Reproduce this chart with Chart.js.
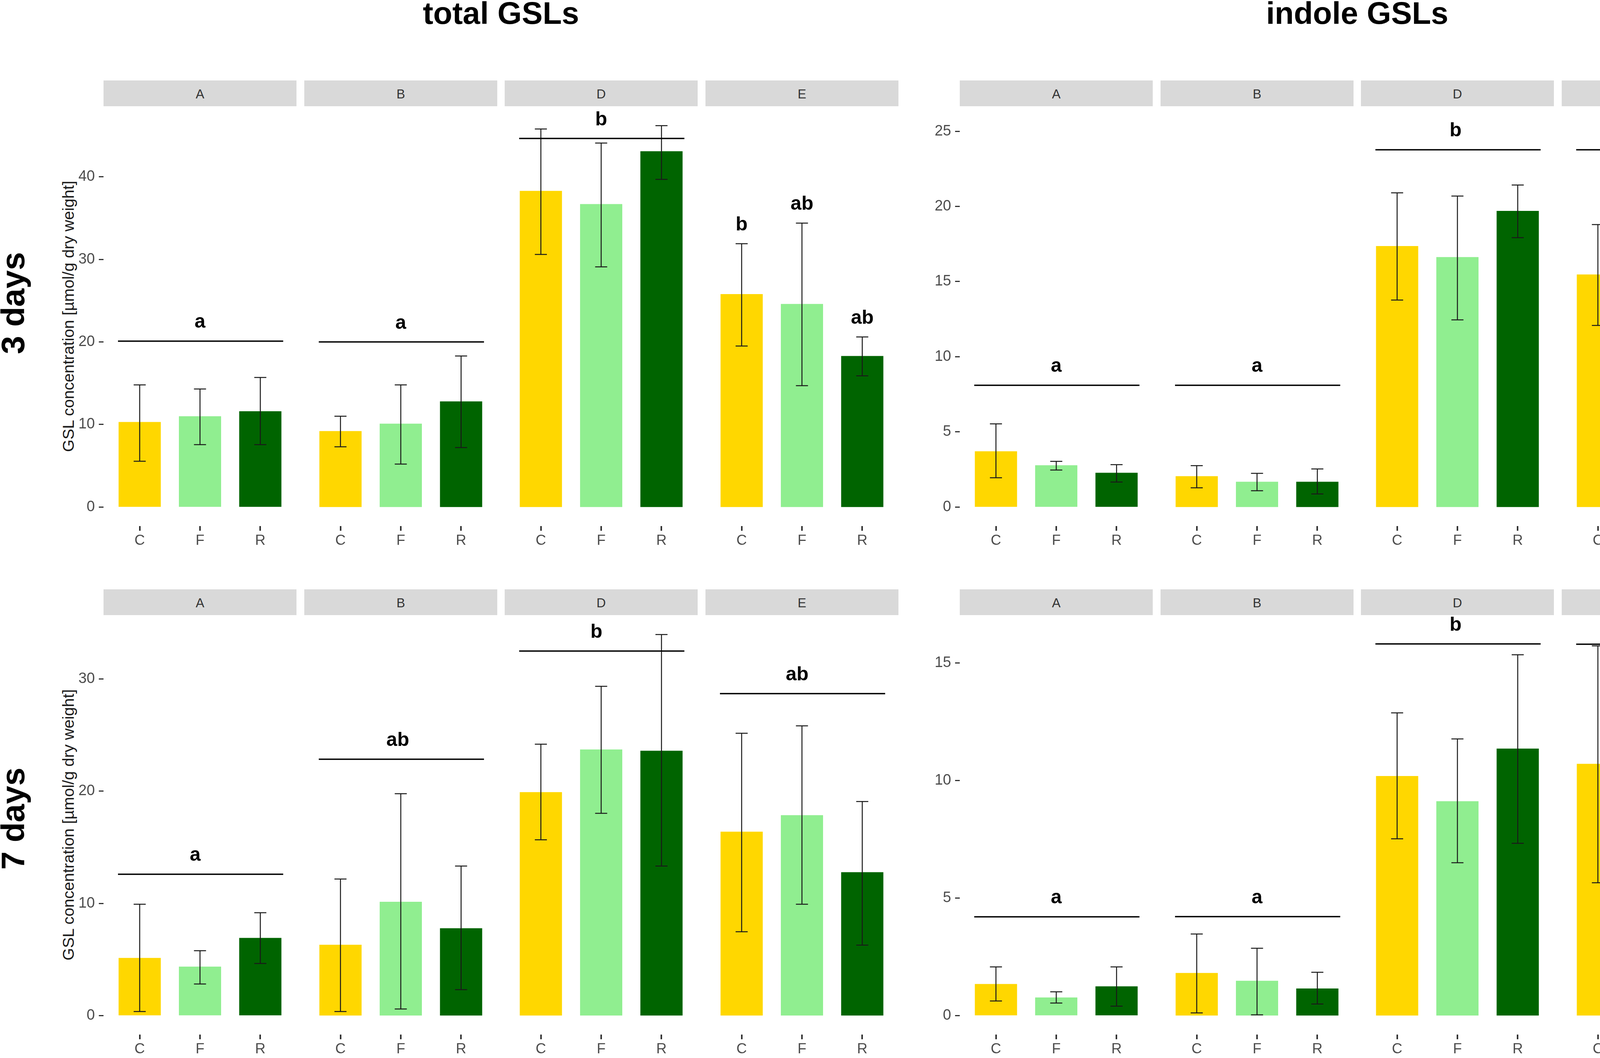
<!DOCTYPE html>
<html>
<head>
<meta charset="utf-8">
<script src="https://cdn.jsdelivr.net/npm/chart.js@4.4.1/dist/chart.umd.min.js"></script>
<style>
  html, body { margin: 0; padding: 0; background: #fff; }
  body { position: relative; width: 4500px; height: 2709px; overflow: hidden; font-family: "Liberation Sans", Arial, sans-serif; }
  canvas { position: absolute; }
  .strip { position: absolute; background: #d9d9d9; color: #333; font-size: 33px; text-align: center; box-sizing: border-box; padding-top: 16px; }
  .title { position: absolute; text-align: center; font-weight: bold; font-size: 80px; line-height: 1; color: #000; }
  .rot { position: absolute; transform: translate(-50%, -50%) rotate(-90deg); white-space: nowrap; line-height: 1; }
</style>
</head>
<body>
<div class="title" style="left:265px;top:-6px;width:2035px">total GSLs</div>
<div class="title" style="left:2457px;top:-6px;width:2035px">indole GSLs</div>
<div class="rot" style="left:33px;top:776px;font-weight:bold;font-size:84px">3 days</div>
<div class="rot" style="left:33px;top:2096px;font-weight:bold;font-size:84px">7 days</div>
<div class="rot" style="left:175px;top:810px;font-size:41px;color:#1a1a1a">GSL concentration [µmol/g dry weight]</div>
<div class="rot" style="left:175px;top:2112px;font-size:41px;color:#1a1a1a">GSL concentration [µmol/g dry weight]</div>
<script>
const facets = ["A", "B", "D", "E"];
const treatments = ["C", "F", "R"];
const barColors = ["#FFD700", "#90EE90", "#006400"];

// total GSLs, 3 days (per facet: C, F, R)
const total3Mean = [[10.3, 11.0, 11.6], [9.2, 10.1, 12.8], [38.3, 36.7, 43.1], [25.8, 24.6, 18.3]];
const total3Low = [[5.55, 7.55, 7.55], [7.3, 5.2, 7.2], [30.6, 29.1, 39.7], [19.5, 14.7, 15.9]];
const total3High = [[14.8, 14.3, 15.7], [11.0, 14.8, 18.3], [45.8, 44.1, 46.2], [31.9, 34.4, 20.6]];
const total3LineY = [20.1, 20.0, 44.65, null];
const total3LineLabel = ["a", "a", "b", null];
const total3LabelX = [2, 2, 2, 2];
const total3BarLabels = [null, null, null, ["b", "ab", "ab"]];
const total3Ticks = [0, 10, 20, 30, 40];

// total GSLs, 7 days
const total7Mean = [[5.14, 4.36, 6.92], [6.31, 10.14, 7.78], [19.92, 23.72, 23.61], [16.39, 17.86, 12.78]];
const total7Low = [[0.36, 2.81, 4.64], [0.36, 0.58, 2.31], [15.67, 18.03, 13.33], [7.47, 9.92, 6.28]];
const total7High = [[9.92, 5.78, 9.17], [12.17, 19.78, 13.33], [24.19, 29.36, 33.97], [25.17, 25.83, 19.08]];
const total7LineY = [12.6, 22.85, 32.5, 28.7];
const total7LineLabel = ["a", "ab", "b", "ab"];
const total7LabelX = [1.92, 1.95, 1.92, 1.92];
const total7Ticks = [0, 10, 20, 30];

// indole GSLs, 3 days
const indole3Mean = [[3.71, 2.78, 2.28], [2.05, 1.68, 1.68], [17.36, 16.63, 19.7], [15.47, 16.47, 9.71]];
const indole3Low = [[1.95, 2.46, 1.66], [1.28, 1.08, 0.87], [13.77, 12.45, 17.92], [12.08, 7.64, 6.03]];
const indole3High = [[5.53, 3.04, 2.82], [2.75, 2.24, 2.53], [20.9, 20.69, 21.42], [18.79, 25.37, 13.4]];
const indole3LineY = [8.1, 8.1, 23.77, 23.77];
const indole3LineLabel = ["a", "a", "b", "b"];
const indole3LabelX = [2, 2, 1.97, 2.2];
const indole3Ticks = [0, 5, 10, 15, 20, 25];

// indole GSLs, 7 days
const indole7Mean = [[1.34, 0.77, 1.24], [1.81, 1.48, 1.15], [10.19, 9.12, 11.36], [10.71, 10.71, 7.73]];
const indole7Low = [[0.62, 0.53, 0.4], [0.11, 0.03, 0.49], [7.52, 6.5, 7.33], [5.65, 5.19, 4.26]];
const indole7High = [[2.07, 1.01, 2.07], [3.47, 2.86, 1.84], [12.88, 11.77, 15.35], [15.73, 16.21, 11.11]];
const indole7LineY = [4.2, 4.21, 15.81, 15.8];
const indole7LineLabel = ["a", "a", "b", "b"];
const indole7LabelX = [2, 2, 1.97, 2.2];
const indole7Ticks = [0, 5, 10, 15];

const FONT = "'Liberation Sans', Arial, sans-serif";
const PANEL_W = 494;
const PITCH = 513.5;
const AXIS_W = 150;
const XAXIS_H = 60;
const TICK_LEN = 12;

const groups = [
  { mean: total3Mean, low: total3Low, high: total3High, lineY: total3LineY, lineLabel: total3LineLabel,
    labelX: total3LabelX, barLabels: total3BarLabels, ticks: total3Ticks, left: 265, top: 273, height: 1074 },
  { mean: total7Mean, low: total7Low, high: total7High, lineY: total7LineY, lineLabel: total7LineLabel,
    labelX: total7LabelX, barLabels: null, ticks: total7Ticks, left: 265, top: 1576, height: 1073 },
  { mean: indole3Mean, low: indole3Low, high: indole3High, lineY: indole3LineY, lineLabel: indole3LineLabel,
    labelX: indole3LabelX, barLabels: null, ticks: indole3Ticks, left: 2457, top: 273, height: 1074 },
  { mean: indole7Mean, low: indole7Low, high: indole7High, lineY: indole7LineY, lineLabel: indole7LineLabel,
    labelX: indole7LabelX, barLabels: null, ticks: indole7Ticks, left: 2457, top: 1576, height: 1073 }
];

function marksPlugin(g, f) {
  return {
    id: "marks",
    afterDraw(chart) {
      const { ctx } = chart;
      const x = chart.scales.x;
      const y = chart.scales.y;
      ctx.save();
      // x-axis tick marks (drawn just under the panel)
      const base = x.top;
      ctx.fillStyle = "#333";
      treatments.forEach((t, i) => {
        const px = Math.round(x.getPixelForValue(i + 1));
        ctx.fillRect(px - 2, base, 4, TICK_LEN);
      });
      // error bars
      const cap = (x.getPixelForValue(1.1) - x.getPixelForValue(0.9)) / 2;
      ctx.strokeStyle = "#1a1a1a";
      ctx.lineWidth = 2.5;
      g.low[f].forEach((lo, i) => {
        const px = x.getPixelForValue(i + 1);
        const y0 = y.getPixelForValue(lo);
        const y1 = y.getPixelForValue(g.high[f][i]);
        ctx.beginPath();
        ctx.moveTo(px, y0); ctx.lineTo(px, y1);
        ctx.moveTo(px - cap, y0); ctx.lineTo(px + cap, y0);
        ctx.moveTo(px - cap, y1); ctx.lineTo(px + cap, y1);
        ctx.stroke();
      });
      // significance lines and letters
      ctx.fillStyle = "#000";
      ctx.font = "bold 50px " + FONT;
      ctx.textAlign = "center";
      ctx.textBaseline = "alphabetic";
      if (g.lineY[f] != null) {
        const ly = y.getPixelForValue(g.lineY[f]);
        ctx.strokeStyle = "#000";
        ctx.lineWidth = 3.5;
        ctx.beginPath();
        ctx.moveTo(x.getPixelForValue(0.64), ly);
        ctx.lineTo(x.getPixelForValue(3.38), ly);
        ctx.stroke();
        ctx.fillText(g.lineLabel[f], x.getPixelForValue(g.labelX[f]), ly - 34);
      }
      if (g.barLabels && g.barLabels[f]) {
        g.barLabels[f].forEach((t, i) => {
          ctx.fillText(t, x.getPixelForValue(i + 1), y.getPixelForValue(g.high[f][i]) - 34);
        });
      }
      ctx.restore();
    }
  };
}

function makePanel(g, f) {
  const first = f === 0;
  const axisW = first ? AXIS_W : 0;
  const panelLeft = Math.round(g.left + f * PITCH);
  const w = PANEL_W + axisW;
  const h = g.height + XAXIS_H;

  const strip = document.createElement("div");
  strip.className = "strip";
  strip.style.cssText = `left:${panelLeft}px;top:${g.top - 67}px;width:${PANEL_W}px;height:66px`;
  strip.textContent = facets[f];
  document.body.appendChild(strip);

  const canvas = document.createElement("canvas");
  canvas.width = w;
  canvas.height = h;
  canvas.style.cssText = `left:${panelLeft - axisW}px;top:${g.top}px;width:${w}px;height:${h}px`;
  document.body.appendChild(canvas);

  const maxHigh = Math.max(...g.high.flat());

  new Chart(canvas, {
    type: "bar",
    data: {
      datasets: [
        {
          data: g.mean[f].map((v, i) => ({ x: i + 1, y: v })),
          backgroundColor: barColors,
          borderWidth: 0,
          categoryPercentage: 1,
          barPercentage: 0.7
        }
      ]
    },
    options: {
      responsive: false,
      animation: false,
      devicePixelRatio: 1,
      layout: { padding: 0 },
      plugins: { legend: { display: false }, tooltip: { enabled: false } },
      scales: {
        x: {
          type: "linear",
          min: 0.4,
          max: 3.6,
          offset: false,
          afterBuildTicks: (ax) => { ax.ticks = treatments.map((t, i) => ({ value: i + 1 })); },
          afterFit: (ax) => { ax.height = XAXIS_H; ax.paddingLeft = 0; ax.paddingRight = 0; },
          ticks: {
            callback: (v) => treatments[v - 1],
            color: "#4d4d4d",
            font: { size: 37, family: FONT },
            padding: 4,
            autoSkip: false,
            maxRotation: 0
          },
          grid: { display: false, offset: false, drawOnChartArea: false, drawTicks: true, tickLength: TICK_LEN },
          border: { display: false }
        },
        y: {
          display: first,
          min: -0.05 * maxHigh,
          max: 1.05 * maxHigh,
          afterBuildTicks: (ax) => { ax.ticks = g.ticks.map((v) => ({ value: v })); },
          afterFit: (ax) => { ax.width = axisW; ax.paddingTop = 0; ax.paddingBottom = 0; },
          ticks: { color: "#4d4d4d", font: { size: 38, family: FONT }, padding: 10 },
          grid: { drawOnChartArea: false, drawTicks: true, tickLength: TICK_LEN, tickWidth: 3, tickColor: "#333" },
          border: { display: false }
        }
      }
    },
    plugins: [marksPlugin(g, f)]
  });
}

groups.forEach((g) => facets.forEach((_, f) => makePanel(g, f)));
</script>
</body>
</html>
